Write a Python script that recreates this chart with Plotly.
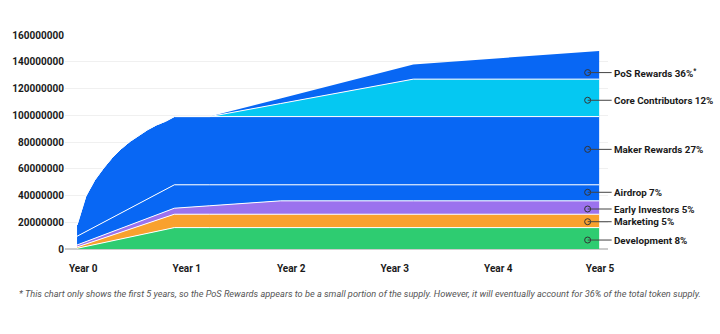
import plotly.graph_objects as go

# ---- data (token supply, in tokens; x = month index from launch) ----
dev_months = [0, 11, 59]
dev_values = [0.5e6, 16e6, 16e6]

mkt_months = [0, 11, 59]
mkt_values = [1.0e6, 10e6, 10e6]

early_months = [0, 11, 23, 59]
early_values = [1.5e6, 4.5e6, 10e6, 10e6]

airdrop_months = [0, 11, 23, 59]
airdrop_values = [6.5e6, 17.5e6, 12e6, 12e6]

maker_months = [0, 1, 2, 3, 4, 5, 6, 7, 8, 9, 10, 11, 59]
maker_values = [8.5e6, 26.5e6, 35e6, 40.5e6, 45e6, 48e6, 50e6, 51e6,
                51.8e6, 51.8e6, 51e6, 51e6, 51e6]

core_months = [15, 38, 59]
core_values = [0, 28e6, 28e6]

pos_months = [15, 38, 59]
pos_values = [0, 11e6, 21e6]

series_names = ["Development", "Marketing", "Early Investors", "Airdrop",
                "Maker Rewards", "Core Contributors", "PoS Rewards"]
series_labels = ["Development 8%", "Marketing 5%", "Early Investors 5%", "Airdrop 7%",
                 "Maker Rewards 27%", "Core Contributors 12%", "PoS Rewards 36%<sup>*</sup>"]
label_y = [6.7e6, 20.4e6, 29.9e6, 42.4e6, 74.5e6, 111.2e6, 131.9e6]

tick_vals = [0.7, 12.4, 24.2, 35.9, 47.6, 59.1]
tick_text = ["Year 0", "Year 1", "Year 2", "Year 3", "Year 4", "Year 5"]

colors = ["#2ecc71", "#f9a12e", "#9b72ee", "#0867f4", "#0867f4", "#05c8f2", "#0867f4"]

footnote = ("* This chart only shows the first 5 years, so the PoS Rewards appears to be a small "
            "portion of the supply. However, it will eventually account for 36% of the total token supply.")

all_series = [
    (dev_months, dev_values), (mkt_months, mkt_values), (early_months, early_values),
    (airdrop_months, airdrop_values), (maker_months, maker_values),
    (core_months, core_values), (pos_months, pos_values),
]

fig = go.Figure()
for i, ((xs, ys), name, col) in enumerate(zip(all_series, series_names, colors)):
    last = i == len(all_series) - 1
    fig.add_trace(go.Scatter(
        x=xs, y=ys, name=name, mode="lines",
        stackgroup="supply", stackgaps="interpolate",
        line=dict(color=col if last else "white", width=0 if last else 1),
        fillcolor=col, hoverinfo="skip", showlegend=False,
    ))

label_x = 57.7
fig.add_trace(go.Scatter(
    x=[label_x] * len(label_y), y=label_y, mode="markers",
    marker=dict(symbol="circle-open", size=6, color="#333333", line=dict(width=1)),
    showlegend=False, hoverinfo="skip", cliponaxis=False,
))

for lab, yv in zip(series_labels, label_y):
    fig.add_annotation(
        x=label_x, y=yv, xref="x", yref="y", text=lab,
        showarrow=True, arrowhead=0, arrowwidth=1, arrowcolor="#444444",
        ax=24, ay=0, xanchor="left", yanchor="middle",
        font=dict(family="Roboto", size=9.8, color="#1a1a1a", weight="bold"),
    )

fig.add_annotation(
    xref="paper", yref="paper", x=-0.0884, y=-0.21, xanchor="left", yanchor="middle",
    text=footnote, showarrow=False,
    font=dict(family="Roboto", size=9.2, color="#555555", style="italic"),
)

fig.update_layout(
    width=720, height=334,
    margin=dict(l=65, r=112, t=35, b=85),
    paper_bgcolor="white", plot_bgcolor="white",
    font=dict(family="Roboto", size=10, color="#1a1a1a"),
    xaxis=dict(range=[-1.36, 60.0], tickvals=tick_vals, ticktext=tick_text,
               showgrid=False, zeroline=False, showline=False,
               ticks="outside", ticklen=10, tickcolor="rgba(0,0,0,0)",
               tickfont=dict(family="Roboto", size=10, color="#1a1a1a", weight="bold")),
    yaxis=dict(range=[0, 160e6], dtick=20e6, tickformat="d",
               showgrid=True, gridcolor="#f0f0f0", gridwidth=1,
               zeroline=True, zerolinecolor="#cccccc", zerolinewidth=1.5,
               showline=False, ticks="",
               tickfont=dict(family="Roboto", size=10, color="#1a1a1a", weight="bold")),
)

fig.write_html("out.html")
